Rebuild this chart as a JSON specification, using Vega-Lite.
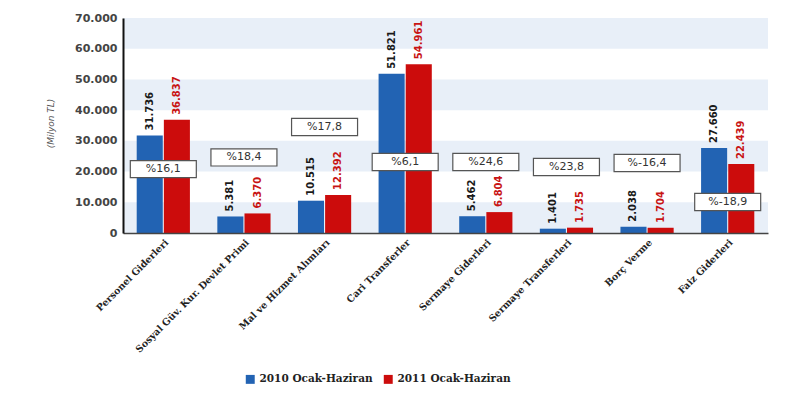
{
  "$schema": "https://vega.github.io/schema/vega-lite/v6.json",
  "width": 645,
  "height": 215,
  "autosize": "none",
  "padding": {"left": 123, "top": 18, "right": 32, "bottom": 170},
  "background": "white",
  "config": {
    "locale": {"number": {"decimal": ",", "thousands": ".", "grouping": [3], "currency": ["", " TL"]}},
    "view": {"stroke": null}
  },
  "resolve": {"axis": {"y": "independent"}},
  "datasets": {
    "bars": [
      {"kalem": "Personel Giderleri", "donem": "2010 Ocak-Haziran", "deger": 31736},
      {"kalem": "Personel Giderleri", "donem": "2011 Ocak-Haziran", "deger": 36837},
      {"kalem": "Sosyal Güv. Kur. Devlet Primi", "donem": "2010 Ocak-Haziran", "deger": 5381},
      {"kalem": "Sosyal Güv. Kur. Devlet Primi", "donem": "2011 Ocak-Haziran", "deger": 6370},
      {"kalem": "Mal ve Hizmet Alımları", "donem": "2010 Ocak-Haziran", "deger": 10515},
      {"kalem": "Mal ve Hizmet Alımları", "donem": "2011 Ocak-Haziran", "deger": 12392},
      {"kalem": "Cari Transferler", "donem": "2010 Ocak-Haziran", "deger": 51821},
      {"kalem": "Cari Transferler", "donem": "2011 Ocak-Haziran", "deger": 54961},
      {"kalem": "Sermaye Giderleri", "donem": "2010 Ocak-Haziran", "deger": 5462},
      {"kalem": "Sermaye Giderleri", "donem": "2011 Ocak-Haziran", "deger": 6804},
      {"kalem": "Sermaye Transferleri", "donem": "2010 Ocak-Haziran", "deger": 1401},
      {"kalem": "Sermaye Transferleri", "donem": "2011 Ocak-Haziran", "deger": 1735},
      {"kalem": "Borç Verme", "donem": "2010 Ocak-Haziran", "deger": 2038},
      {"kalem": "Borç Verme", "donem": "2011 Ocak-Haziran", "deger": 1704},
      {"kalem": "Faiz Giderleri", "donem": "2010 Ocak-Haziran", "deger": 27660},
      {"kalem": "Faiz Giderleri", "donem": "2011 Ocak-Haziran", "deger": 22439}
    ],
    "artis": [
      {"kalem": "Personel Giderleri", "oran": "%16,1", "konum": 20800},
      {"kalem": "Sosyal Güv. Kur. Devlet Primi", "oran": "%18,4", "konum": 24600},
      {"kalem": "Mal ve Hizmet Alımları", "oran": "%17,8", "konum": 34500},
      {"kalem": "Cari Transferler", "oran": "%6,1", "konum": 23100},
      {"kalem": "Sermaye Giderleri", "oran": "%24,6", "konum": 23100},
      {"kalem": "Sermaye Transferleri", "oran": "%23,8", "konum": 21500},
      {"kalem": "Borç Verme", "oran": "%-16,4", "konum": 22800},
      {"kalem": "Faiz Giderleri", "oran": "%-18,9", "konum": 10100}
    ],
    "bantlar": [
      {"alt": 0, "ust": 10000},
      {"alt": 20000, "ust": 30000},
      {"alt": 40000, "ust": 50000},
      {"alt": 60000, "ust": 70000}
    ]
  },
  "layer": [
    {
      "data": {"name": "bantlar"},
      "mark": {"type": "rect", "color": "#e8eff8"},
      "encoding": {
        "y": {"field": "alt", "type": "quantitative", "scale": {"domain": [0, 70000]}, "axis": null},
        "y2": {"field": "ust"}
      }
    },
    {
      "data": {"name": "bars"},
      "mark": {"type": "bar"},
      "encoding": {
        "x": {
          "field": "kalem", "type": "nominal", "sort": null,
          "scale": {"paddingInner": 0.34, "paddingOuter": 0.17},
          "axis": {
            "title": null, "labelAngle": -45, "labelFont": "DejaVu Serif", "labelFontWeight": "bold",
            "labelFontSize": 9.5, "labelColor": "#222", "ticks": false, "domainColor": "#444",
            "domainWidth": 1.5, "labelPadding": 4, "zindex": 2
          }
        },
        "xOffset": {"field": "donem", "type": "nominal", "scale": {"paddingInner": 0.04}},
        "y": {
          "field": "deger", "type": "quantitative",
          "axis": {
            "orient": "left",
            "title": "(Milyon TL)", "titleFont": "DejaVu Sans", "titleFontStyle": "italic",
            "titleFontWeight": "normal", "titleFontSize": 9, "titleColor": "#555",
            "titleAngle": -90, "titleX": -73, "titleY": 105, "titleAlign": "center", "titleBaseline": "middle",
            "values": [0, 10000, 20000, 30000, 40000, 50000, 60000, 70000], "labelOverlap": false,
            "format": ",d", "labelFont": "DejaVu Sans", "labelFontWeight": "bold", "labelFontSize": 11,
            "labelColor": "#444", "grid": false, "ticks": false, "domainColor": "#111", "domainWidth": 2,
            "labelPadding": 6, "zindex": 2
          }
        },
        "color": {
          "field": "donem", "type": "nominal",
          "scale": {"domain": ["2010 Ocak-Haziran", "2011 Ocak-Haziran"], "range": ["#2263b3", "#cc0c0c"]},
          "legend": {
            "title": null, "orient": "none", "direction": "horizontal", "legendX": 122, "legendY": 356,
            "symbolType": "square", "symbolSize": 80, "symbolStrokeWidth": 0, "labelFont": "DejaVu Serif",
            "labelFontWeight": "bold", "labelFontSize": 10.5, "labelColor": "#222", "columnPadding": 10
          }
        }
      }
    },
    {
      "data": {"name": "bars"},
      "mark": {"type": "text", "angle": 270, "align": "left", "baseline": "middle", "dx": 5,
               "font": "DejaVu Sans", "fontWeight": "bold", "fontSize": 10},
      "encoding": {
        "x": {"field": "kalem", "type": "nominal", "sort": null},
        "xOffset": {"field": "donem", "type": "nominal"},
        "y": {"field": "deger", "type": "quantitative", "axis": null},
        "text": {"field": "deger", "type": "quantitative", "format": ",d"},
        "fill": {
          "field": "donem", "type": "nominal",
          "scale": {"domain": ["2010 Ocak-Haziran", "2011 Ocak-Haziran"], "range": ["#1a1a1a", "#c81414"]},
          "legend": null
        }
      }
    },
    {
      "data": {"name": "artis"},
      "mark": {"type": "point", "shape": "M-1,-0.26L1,-0.26L1,0.26L-1,0.26Z", "size": 4356,
               "filled": true, "fill": "white", "stroke": "#555", "strokeWidth": 1.2, "opacity": 1},
      "encoding": {
        "x": {"field": "kalem", "type": "nominal", "sort": null},
        "y": {"field": "konum", "type": "quantitative", "axis": null}
      }
    },
    {
      "data": {"name": "artis"},
      "mark": {"type": "text", "font": "DejaVu Sans", "fontSize": 11, "color": "#333", "baseline": "middle"},
      "encoding": {
        "x": {"field": "kalem", "type": "nominal", "sort": null},
        "y": {"field": "konum", "type": "quantitative", "axis": null},
        "text": {"field": "oran", "type": "nominal"}
      }
    }
  ]
}
